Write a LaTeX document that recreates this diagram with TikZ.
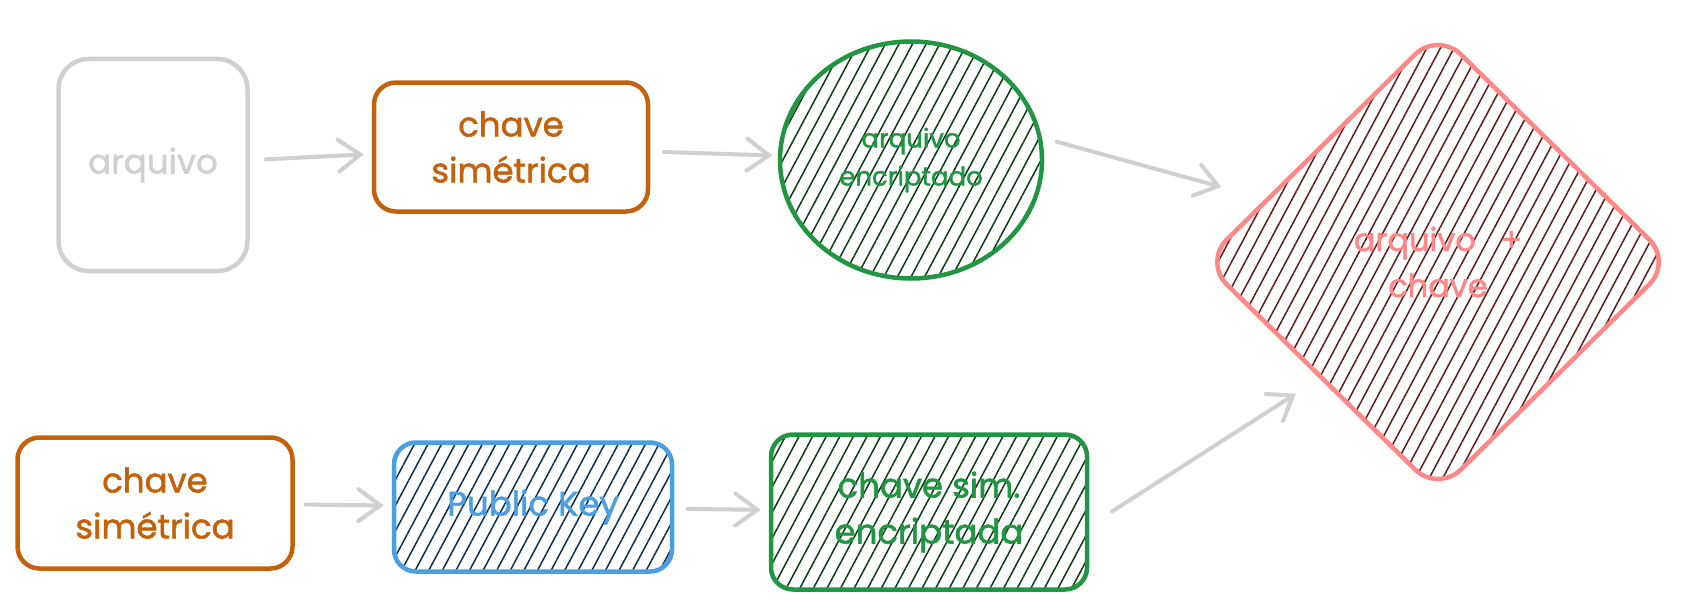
\documentclass[tikz,border=0pt]{standalone}
\usepackage{fontspec}
\setmainfont{Poppins}[FakeBold=1.6]
\usetikzlibrary{shapes.geometric, arrows.meta, patterns.meta}

\definecolor{softgray}{RGB}{208,208,208}
\definecolor{keyorange}{RGB}{196,98,12}
\definecolor{encgreen}{RGB}{32,150,66}
\definecolor{hatchgreen}{RGB}{14,58,22}
\definecolor{pubblue}{RGB}{74,158,225}
\definecolor{hatchblue}{RGB}{12,46,80}
\definecolor{mixpink}{RGB}{255,135,135}
\definecolor{hatchred}{RGB}{92,28,28}

\tikzset{
  box/.style={draw, rounded corners=22pt, line width=4.5pt, align=center, inner sep=0pt,
    font=\fontsize{34}{46}\selectfont},
  hatch/.style={pattern={Lines[angle=62, distance=12pt, line width=1.5pt]}, pattern color=#1},
  flow/.style={draw=softgray, line width=4pt, line cap=round,
    -{Straight Barb[length=22pt, width=32pt, line cap=round]}},
}

\begin{document}
\begin{tikzpicture}[x=1pt, y=-1pt]
  \useasboundingbox (0,0) rectangle (1689,610);

  % top row
  \node[box, draw=softgray, text=softgray, rounded corners=30pt, minimum width=189pt, minimum height=212pt] (arq) at (153,165) {arquivo};
  \node[box, draw=keyorange, text=keyorange, minimum width=274pt, minimum height=129pt] (chv1) at (511,147) {chave\\simétrica};
  \node[box, ellipse, draw=encgreen, text=encgreen, hatch=hatchgreen, minimum width=262pt, minimum height=237pt,
    font=\fontsize{26}{38}\selectfont] (enc1) at (911,160) {arquivo\\encriptado};

  % result
  \node[box, diamond, draw=mixpink, text=mixpink, hatch=hatchred, rounded corners=32pt, minimum width=470pt, minimum height=462pt,
    font=\fontsize{32}{46}\selectfont] (comb) at (1438,262) {arquivo \enspace+\\chave};

  % bottom row
  \node[box, draw=keyorange, text=keyorange, minimum width=275pt, minimum height=131pt] (chv2) at (155,503) {chave\\simétrica};
  \node[box, draw=pubblue, text=pubblue, hatch=hatchblue, minimum width=278pt, minimum height=129pt] (pub) at (533,507) {Public Key};
  \node[box, draw=encgreen, text=encgreen, hatch=hatchgreen, minimum width=316pt, minimum height=155pt] (enc2) at (929,512) {chave sim.\\encriptada};

  % arrows
  \draw[flow, shorten <=16pt, shorten >=8pt] (arq) -- (chv1);
  \draw[flow, shorten <=14pt, shorten >=7pt] (chv1) -- (enc1);
  \draw[flow, shorten <=17pt, shorten >=45pt] (enc1.10) -- (comb.160);
  \draw[flow, shorten <=11pt, shorten >=8pt] (chv2) -- (pub);
  \draw[flow, shorten <=13pt, shorten >=8pt] (pub) -- (enc2);
  \draw[flow, shorten <=27pt, shorten >=28pt] (enc2.-5) -- (comb.south west);
\end{tikzpicture}
\end{document}
